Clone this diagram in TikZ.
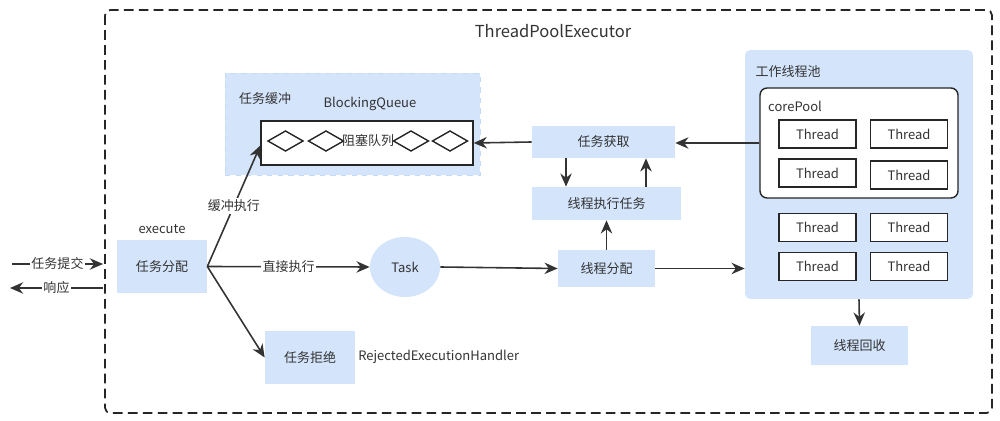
\documentclass[tikz,border=0pt]{standalone}
\usepackage{fontspec}
\setmainfont{Noto Sans CJK SC}
\usetikzlibrary{arrows.meta,calc,shapes.geometric}
\definecolor{lb}{HTML}{D3E4FB}
\definecolor{lbd}{HTML}{C4DAF7}
\definecolor{tx}{HTML}{333333}
\tikzset{
  every node/.style={text=tx,font=\fontsize{7.4pt}{9pt}\selectfont,inner sep=0pt},
  bluebox/.style={fill=lb,draw=none},
  thr/.style={draw=black!85,line width=0.8pt,fill=white,minimum width=1.54cm,minimum height=0.56cm},
  arr/.style={draw=black!80,line width=0.9pt,-{Stealth[length=7.5pt,width=6.5pt]}},
  dia/.style={draw=black!85,line width=0.8pt,fill=white,line join=miter},
  lbl/.style={fill=white,inner sep=1pt}
}
\begin{document}
\begin{tikzpicture}[x=0.02cm,y=-0.02cm]
\useasboundingbox (0,0) rectangle (1000,421);
% outer frame
\draw[line width=1pt,dash pattern=on 5.5pt off 3pt,rounded corners=3pt,draw=black!85] (105,10) rectangle (992,413);
\node (title) at (553,31) {\fontsize{9.4pt}{11pt}\selectfont ThreadPoolExecutor};
% buffer region
\node[fill=lb,draw=lbd,dashed,minimum width=5.1cm,minimum height=2.04cm] (buf) at (352.5,124) {};
\node (buflbl) at (265,99) {任务缓冲};
\node (bqlbl) at (370,104) {BlockingQueue};
\node[fill=white,draw=black!85,line width=0.8pt,minimum width=4.24cm,minimum height=0.88cm] (queue) at (367,143) {};
\coordinate (d1) at (285.5,141);
\coordinate (d2) at (326,141);
\coordinate (d3) at (411,141);
\coordinate (d4) at (450,141);
\foreach \d in {d1,d2,d3,d4}
  \draw[dia] (\d) ++(-17.5,0) -- ++(17.5,-10) -- ++(17.5,10) -- ++(-17.5,10) -- cycle;
\node (qtxt) at (368,141) {阻塞队列};
% middle boxes
\node[bluebox,minimum width=2.86cm,minimum height=0.64cm] (get) at (603.5,142) {任务获取};
\node[bluebox,minimum width=2.98cm,minimum height=0.66cm] (exec) at (606.5,203.5) {线程执行任务};
\node[bluebox,minimum width=1.94cm,minimum height=0.74cm] (assign) at (606.5,268.5) {线程分配};
\node[ellipse,fill=lb,minimum width=1.4cm,minimum height=1.2cm] (task) at (405,267) {Task};
\node[bluebox,minimum width=1.8cm,minimum height=1.06cm] (dist) at (162,266.5) {任务分配};
\node (exelbl) at (162,229) {execute};
\node[bluebox,minimum width=1.8cm,minimum height=1.06cm] (rej) at (310,357.5) {任务拒绝};
\node[anchor=west] (rejlbl) at (358,357) {RejectedExecutionHandler};
% pool
\node[fill=lb,rounded corners=3pt,minimum width=4.56cm,minimum height=4.98cm] (pool) at (859,174.5) {};
\node (poollbl) at (788,72) {工作线程池};
\node[fill=white,draw=black!85,line width=0.8pt,rounded corners=4pt,minimum width=3.96cm,minimum height=2.2cm] (core) at (859,143) {};
\node (corelbl) at (795,106) {corePool};
\node[thr] (t1) at (817.5,134) {Thread};
\node[thr] (t2) at (909,134) {Thread};
\node[thr] (t3) at (817.5,173) {Thread};
\node[thr] (t4) at (909,175) {Thread};
\node[thr] (t5) at (817.5,227.5) {Thread};
\node[thr] (t6) at (909,227.5) {Thread};
\node[thr] (t7) at (817.5,266.5) {Thread};
\node[thr] (t8) at (909,266.5) {Thread};
\node[bluebox,minimum width=1.94cm,minimum height=0.78cm] (recl) at (859.5,345.5) {线程回收};
% left input/output
\coordinate (inS) at (12,264);
\coordinate (inE) at (103,264);
\coordinate (outS) at (103,288);
\coordinate (outE) at (10,288);
\draw[arr] (inS) -- node[lbl] {任务提交} (inE);
\draw[arr] (outS) -- node[lbl] {响应} (outE);
% connectors
\coordinate (qin) at ([yshift=-0.05cm]queue.west);
\draw[arr] (dist.east) -- node[lbl,pos=0.5] {缓冲执行} (qin);
\draw[arr] (dist.east) -- node[lbl,pos=0.5] {直接执行} (task.west);
\draw[arr] (dist.east) -- (rej.west);
\draw[arr] (task.east) -- (assign.west);
\draw[arr] (assign.east) -- (assign.east -| pool.west);
\draw[arr] (assign.north) -- (exec.south);
\coordinate (g1) at ([xshift=-0.75cm]get.south);
\coordinate (g2) at ([xshift=0.85cm]get.south);
\draw[arr] (g1) -- (g1 |- exec.north);
\draw[arr] (g2 |- exec.north) -- (g2);
\draw[arr] (core.west) -- (core.west -| get.east);
\draw[arr] (get.west) -- (queue.east);
\draw[arr] (pool.south) -- (recl.north);
\end{tikzpicture}
\end{document}
